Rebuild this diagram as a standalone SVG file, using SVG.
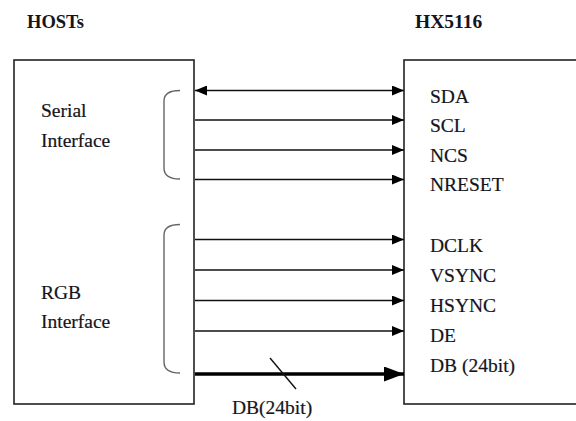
<svg xmlns="http://www.w3.org/2000/svg" width="576" height="421" viewBox="0 0 576 421">
<defs>
<style>
.t{font-family:'Liberation Serif','Times New Roman','DejaVu Serif',serif;font-size:19.5px;fill:#141420;stroke:#141420;stroke-width:0.2}
.b{font-weight:bold;stroke-width:0}
.box{fill:#fff;stroke:#222;stroke-width:1.6}
.ln{stroke:#111;stroke-width:1.4;fill:none}
.thick{stroke:#000;stroke-width:3.5;fill:none}
.br{stroke:#666;stroke-width:1.4;fill:none}
</style>
<marker id="ah" viewBox="0 0 12 10" refX="12" refY="5" markerWidth="12" markerHeight="10" markerUnits="userSpaceOnUse" orient="auto-start-reverse">
<path d="M0,0 L12,5 L0,10 Z" fill="#000"/>
</marker>
<marker id="ahb" viewBox="0 0 20 15" refX="20" refY="7.5" markerWidth="20" markerHeight="15" markerUnits="userSpaceOnUse" orient="auto">
<path d="M0,0 L20,7.5 L0,15 Z" fill="#000"/>
</marker>
</defs>
<rect width="576" height="421" fill="#fff"/>
<g id="hosts">
<text class="t b" x="27" y="28" style="font-size:18.5px">HOSTs</text>
<rect class="box" x="14" y="60" width="180" height="344"/>
<text class="t" x="41" y="117">Serial</text>
<text class="t" x="41" y="147">Interface</text>
<text class="t" x="41" y="299">RGB</text>
<text class="t" x="41" y="328">Interface</text>
<path class="br" d="M180,90.5 Q164,90.5 164,101 V168 Q164,179 180,179"/>
<path class="br" d="M180,224.5 Q164,224.5 164,235 V362 Q164,373 180,373"/>
</g>
<g id="hx5116">
<text class="t b" x="415" y="28">HX5116</text>
<rect class="box" x="404" y="60" width="190" height="344"/>
<text class="t" x="430" y="103">SDA</text>
<text class="t" x="430" y="132">SCL</text>
<text class="t" x="430" y="162">NCS</text>
<text class="t" x="430" y="191">NRESET</text>
<text class="t" x="430" y="252">DCLK</text>
<text class="t" x="430" y="282">VSYNC</text>
<text class="t" x="430" y="312">HSYNC</text>
<text class="t" x="430" y="342">DE</text>
<text class="t" x="430" y="372">DB (24bit)</text>
</g>
<g id="connectors">
<line class="ln" x1="195" y1="90.5" x2="404" y2="90.5" marker-start="url(#ah)" marker-end="url(#ah)"/>
<line class="ln" x1="195" y1="120" x2="404" y2="120" marker-end="url(#ah)"/>
<line class="ln" x1="195" y1="150" x2="404" y2="150" marker-end="url(#ah)"/>
<line class="ln" x1="195" y1="179.5" x2="404" y2="179.5" marker-end="url(#ah)"/>
<line class="ln" x1="195" y1="239.5" x2="404" y2="239.5" marker-end="url(#ah)"/>
<line class="ln" x1="195" y1="270" x2="404" y2="270" marker-end="url(#ah)"/>
<line class="ln" x1="195" y1="300.5" x2="404" y2="300.5" marker-end="url(#ah)"/>
<line class="ln" x1="195" y1="331" x2="404" y2="331" marker-end="url(#ah)"/>
<line class="thick" x1="195" y1="374" x2="404" y2="374" marker-end="url(#ahb)"/>
<line class="ln" x1="270" y1="358" x2="296" y2="389"/>
<text class="t" x="232" y="414">DB(24bit)</text>
</g>
</svg>
